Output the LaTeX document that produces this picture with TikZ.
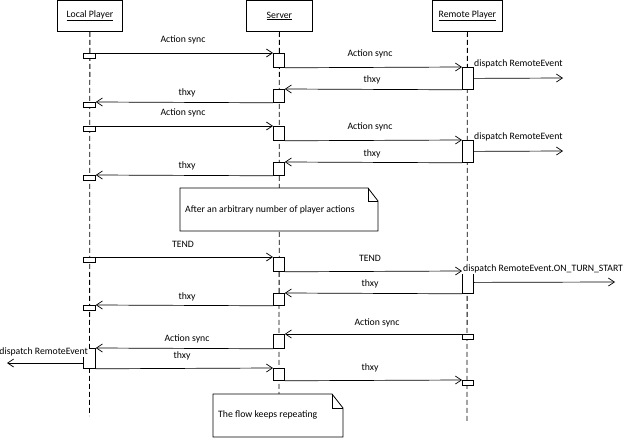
\documentclass[tikz,border=0pt]{standalone}
\usepackage{fontspec}
\setmainfont{Carlito}
\usetikzlibrary{arrows.meta}
\begin{document}
\begin{tikzpicture}[x=1pt,y=-1pt,
  every node/.style={font=\fontsize{9.75}{11}\selectfont, inner sep=0pt},
  head/.style={draw, line width=0.8pt, fill=white, minimum height=31pt, anchor=north west},
  act/.style={draw, line width=0.8pt, fill=white, minimum width=11pt, anchor=north west},
  life/.style={line width=0.8pt, dash pattern=on 5pt off 3pt},
  msg/.style={line width=0.7pt, -{Straight Barb[length=6pt,width=8pt,line width=0.7pt]}},
  lbl/.style={fill=none},
  notebox/.style={draw, line width=0.8pt, fill=white, line join=miter}
]
\useasboundingbox (0,0) rectangle (625,439);

% participants
\node[head, minimum width=65pt] (lp) at (57,0) {\underline{Local Player}};
\node[head, minimum width=66pt] (sv) at (246,0) {\underline{Server}};
\node[head, minimum width=70pt] (rp) at (432,0) {\underline{Remote Player}};

% lifeline ends
\coordinate (lpend) at (89.5,416);
\coordinate (svend) at (279,394);
\coordinate (rpend) at (467,422);
\draw[life] (lp.south) -- (lpend);
\draw[life] (sv.south) -- (svend);
\draw[life] (rp.south) -- (rpend);

% activations: first action round
\node[act, minimum width=12pt, minimum height=5pt] (l1) at (83,53) {};
\node[act, minimum height=14pt] (s1) at (273,53) {};
\node[act, minimum height=22pt] (r1) at (462,67) {};
\node[act, minimum height=13pt] (s2) at (273,89) {};
\node[act, minimum width=12pt, minimum height=5pt] (l2) at (83,102) {};
% second action round
\node[act, minimum width=12pt, minimum height=5pt] (l3) at (83,126) {};
\node[act, minimum height=14pt] (s3) at (273,126) {};
\node[act, minimum height=22pt] (r2) at (462,140) {};
\node[act, minimum height=13pt] (s4) at (273,162) {};
\node[act, minimum width=12pt, minimum height=5pt] (l4) at (83,175) {};
% end of turn
\node[act, minimum width=12pt, minimum height=5pt] (l5) at (83,257) {};
\node[act, minimum height=14pt] (s5) at (273,257) {};
\node[act, minimum height=22pt] (r3) at (462,271) {};
\node[act, minimum height=12pt] (s6) at (273,293) {};
\node[act, minimum width=12pt, minimum height=5pt] (l6) at (83,305) {};
% remote action
\node[act, minimum height=5pt] (r4) at (462,334) {};
\node[act, minimum height=14pt] (s7) at (273,334) {};
\node[act, minimum width=12pt, minimum height=20pt] (l7) at (83,348) {};
\node[act, minimum height=12pt] (s8) at (273,368) {};
\node[act, minimum height=5pt] (r5) at (462,380) {};

% messages
\draw[msg] (l1.north east) -- (s1.north west);
\draw[msg] (s1.south east) -- (r1.north west);
\draw[msg] (r1.south west) -- (s2.north east);
\draw[msg] (s2.south west) -- (l2.north east);
\draw[msg] (l3.north east) -- (s3.north west);
\draw[msg] (s3.south east) -- (r2.north west);
\draw[msg] (r2.south west) -- (s4.north east);
\draw[msg] (s4.south west) -- (l4.north east);
\draw[msg] (l5.north east) -- (s5.north west);
\draw[msg] (s5.south east) -- (r3.north west);
\draw[msg] (r3.south west) -- (s6.north east);
\draw[msg] (s6.south west) -- (l6.north east);
\draw[msg] (r4.north west) -- (s7.north east);
\draw[msg] (s7.south west) -- (l7.north east);
\draw[msg] (l7.south east) -- (s8.north west);
\draw[msg] (s8.south east) -- (r5.north west);

% dispatched events
\coordinate (d1) at (563,78);
\coordinate (d2) at (563,151);
\coordinate (d3) at (615,282);
\coordinate (d4) at (7,363);
\draw[msg] (r1.east) -- (d1);
\draw[msg] (r2.east) -- (d2);
\draw[msg] (r3.east) -- (d3);
\draw[msg] (l7.west |- d4) -- (d4);

% message labels
\node[lbl] (t1) at (183,40) {Action sync};
\node[lbl] (t2) at (370,54) {Action sync};
\node[lbl, anchor=west] (t3) at (474,64) {dispatch RemoteEvent};
\node[lbl] (t4) at (372,80) {thxy};
\node[lbl] (t5) at (187,93) {thxy};
\node[lbl] (t6) at (183,113) {Action sync};
\node[lbl] (t7) at (370,127) {Action sync};
\node[lbl, anchor=west] (t8) at (474,137) {dispatch RemoteEvent};
\node[lbl] (t9) at (372,154) {thxy};
\node[lbl] (t10) at (187,166) {thxy};
\node[lbl] (t11) at (183,244) {TEND};
\node[lbl] (t12) at (370,258) {TEND};
\node[lbl, anchor=west, fill=white, inner sep=1pt] (t13) at (462,269) {dispatch RemoteEvent.ON\_TURN\_START};
\node[lbl] (t14) at (370,284) {thxy};
\node[lbl] (t15) at (187,297) {thxy};
\node[lbl] (t16) at (377,323) {Action sync};
\node[lbl] (t17) at (187,339) {Action sync};
\node[lbl, anchor=east, fill=white, inner sep=1pt] (t18) at (89,352) {dispatch RemoteEvent};
\node[lbl] (t19) at (182,356) {thxy};
\node[lbl] (t20) at (370,368) {thxy};

% notes
\draw[notebox] (180,188) -- (368,188) -- (378,201) -- (378,231) -- (180,231) -- cycle;
\draw[line width=0.8pt] (368,188) -- (368,201) -- (378,201);
\node[anchor=west] (n1) at (185,210) {After an arbitrary number of player actions};

\draw[notebox] (213,394) -- (332,394) -- (343,408) -- (343,437) -- (213,437) -- cycle;
\draw[line width=0.8pt] (332,394) -- (332,408) -- (343,408);
\node[anchor=west] (n2) at (218,415) {The flow keeps repeating};
\end{tikzpicture}
\end{document}
